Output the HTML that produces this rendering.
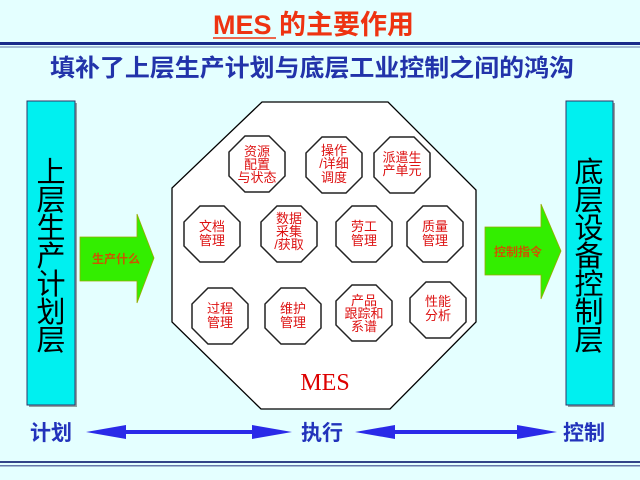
<!DOCTYPE html>
<html><head><meta charset="utf-8"><style>
html,body{margin:0;padding:0;background:#e4ffff;}
svg{display:block;}
text{font-family:"Liberation Sans","Noto Sans CJK SC",sans-serif;}
</style></head><body>
<svg width="640" height="480" viewBox="0 0 640 480" xmlns="http://www.w3.org/2000/svg">
<rect width="640" height="480" fill="#e4ffff"/>
<text x="213" y="34" font-size="27" font-weight="bold" fill="#ee3311">MES 的主要作用</text>
<line x1="213" y1="38" x2="276" y2="38" stroke="#ee3311" stroke-width="1.5"/>
<rect x="0" y="42" width="640" height="3" fill="#1a2a8a"/>
<rect x="0" y="46.5" width="640" height="1" fill="#6677aa"/>
<text x="312" y="76" text-anchor="middle" font-size="24" font-weight="bold" fill="#2233aa" textLength="524" lengthAdjust="spacingAndGlyphs">填补了上层生产计划与底层工业控制之间的鸿沟</text>

<rect x="29" y="103" width="48" height="304" fill="#444" opacity="0.5"/>
<rect x="27" y="101" width="48" height="304" fill="#00f0f0" stroke="#336" stroke-width="1"/>
<text font-size="29" fill="#000" text-anchor="middle">
<tspan x="51" y="182">上</tspan><tspan x="51" y="210">层</tspan><tspan x="51" y="238">生</tspan><tspan x="51" y="266">产</tspan><tspan x="51" y="294">计</tspan><tspan x="51" y="322">划</tspan><tspan x="51" y="350">层</tspan></text>

<rect x="568" y="103" width="47" height="304" fill="#444" opacity="0.5"/>
<rect x="566" y="101" width="47" height="304" fill="#00f0f0" stroke="#336" stroke-width="1"/>
<text font-size="29" fill="#000" text-anchor="middle">
<tspan x="589" y="182">底</tspan><tspan x="589" y="210">层</tspan><tspan x="589" y="238">设</tspan><tspan x="589" y="266">备</tspan><tspan x="589" y="294">控</tspan><tspan x="589" y="322">制</tspan><tspan x="589" y="350">层</tspan></text>

<polygon points="80,237 137,237 137,214 154,258 137,303 137,281 80,281" fill="#33ee00" stroke="#99aa00" stroke-width="0.8"/>
<text x="116" y="263" text-anchor="middle" font-size="12" font-weight="bold" fill="#cc5500">生产什么</text>
<polygon points="485,227 541,227 541,204 561,251 541,299 541,275 485,275" fill="#33ee00" stroke="#99aa00" stroke-width="0.8"/>
<text x="518" y="256" text-anchor="middle" font-size="12" font-weight="bold" fill="#cc5500">控制指令</text>

<polygon points="262,102 388,102 476,190 476,322 390,409 261,409 172,322 172,188" fill="#fff" stroke="#000" stroke-width="1.3"/>
<text x="325" y="390" text-anchor="middle" font-size="24" fill="#dd0000" style="font-family:'Liberation Serif',serif">MES</text>

<g fill="#fff" stroke="#222" stroke-width="1.5">
<polygon points="-12,-28 12,-28 28,-12 28,12 12,28 -12,28 -28,12 -28,-12" transform="translate(257,164)"/>
<polygon points="-12,-28 12,-28 28,-12 28,12 12,28 -12,28 -28,12 -28,-12" transform="translate(334,165)"/>
<polygon points="-12,-28 12,-28 28,-12 28,12 12,28 -12,28 -28,12 -28,-12" transform="translate(402,165)"/>
<polygon points="-12,-28 12,-28 28,-12 28,12 12,28 -12,28 -28,12 -28,-12" transform="translate(212,234)"/>
<polygon points="-12,-28 12,-28 28,-12 28,12 12,28 -12,28 -28,12 -28,-12" transform="translate(289,234)"/>
<polygon points="-12,-28 12,-28 28,-12 28,12 12,28 -12,28 -28,12 -28,-12" transform="translate(364,234)"/>
<polygon points="-12,-28 12,-28 28,-12 28,12 12,28 -12,28 -28,12 -28,-12" transform="translate(435,234)"/>
<polygon points="-12,-28 12,-28 28,-12 28,12 12,28 -12,28 -28,12 -28,-12" transform="translate(220,316)"/>
<polygon points="-12,-28 12,-28 28,-12 28,12 12,28 -12,28 -28,12 -28,-12" transform="translate(293,316)"/>
<polygon points="-12,-28 12,-28 28,-12 28,12 12,28 -12,28 -28,12 -28,-12" transform="translate(364,313)"/>
<polygon points="-12,-28 12,-28 28,-12 28,12 12,28 -12,28 -28,12 -28,-12" transform="translate(438,310)"/>
</g>
<g font-size="13" fill="#dd1111" text-anchor="middle">
<text><tspan x="257" y="156">资源</tspan><tspan x="257" y="169">配置</tspan><tspan x="257" y="182">与状态</tspan></text>
<text><tspan x="334" y="155">操作</tspan><tspan x="334" y="168">/详细</tspan><tspan x="334" y="182">调度</tspan></text>
<text><tspan x="402" y="162">派遣生</tspan><tspan x="402" y="175">产单元</tspan></text>
<text><tspan x="212" y="231">文档</tspan><tspan x="212" y="245">管理</tspan></text>
<text><tspan x="289" y="223">数据</tspan><tspan x="289" y="236">采集</tspan><tspan x="289" y="249">/获取</tspan></text>
<text><tspan x="364" y="231">劳工</tspan><tspan x="364" y="245">管理</tspan></text>
<text><tspan x="435" y="231">质量</tspan><tspan x="435" y="245">管理</tspan></text>
<text><tspan x="220" y="313">过程</tspan><tspan x="220" y="327">管理</tspan></text>
<text><tspan x="293" y="313">维护</tspan><tspan x="293" y="327">管理</tspan></text>
<text><tspan x="364" y="305">产品</tspan><tspan x="364" y="318">跟踪和</tspan><tspan x="364" y="331">系谱</tspan></text>
<text><tspan x="438" y="306">性能</tspan><tspan x="438" y="320">分析</tspan></text>
</g>

<g font-size="21" font-weight="bold" fill="#2233bb" text-anchor="middle">
<text x="51" y="440">计划</text>
<text x="322" y="440">执行</text>
<text x="584" y="440">控制</text>
</g>
<g fill="#2a2ae8">
<rect x="120" y="430" width="140" height="4"/>
<polygon points="86,432 126,425 126,439"/>
<polygon points="292,432 252,425 252,439"/>
<rect x="390" y="430" width="135" height="4"/>
<polygon points="355,432 395,425 395,439"/>
<polygon points="557,432 517,425 517,439"/>
</g>
<rect x="0" y="461" width="640" height="2" fill="#334488"/>
<rect x="0" y="465" width="640" height="1.5" fill="#6677aa"/>
</svg>
</body></html>
